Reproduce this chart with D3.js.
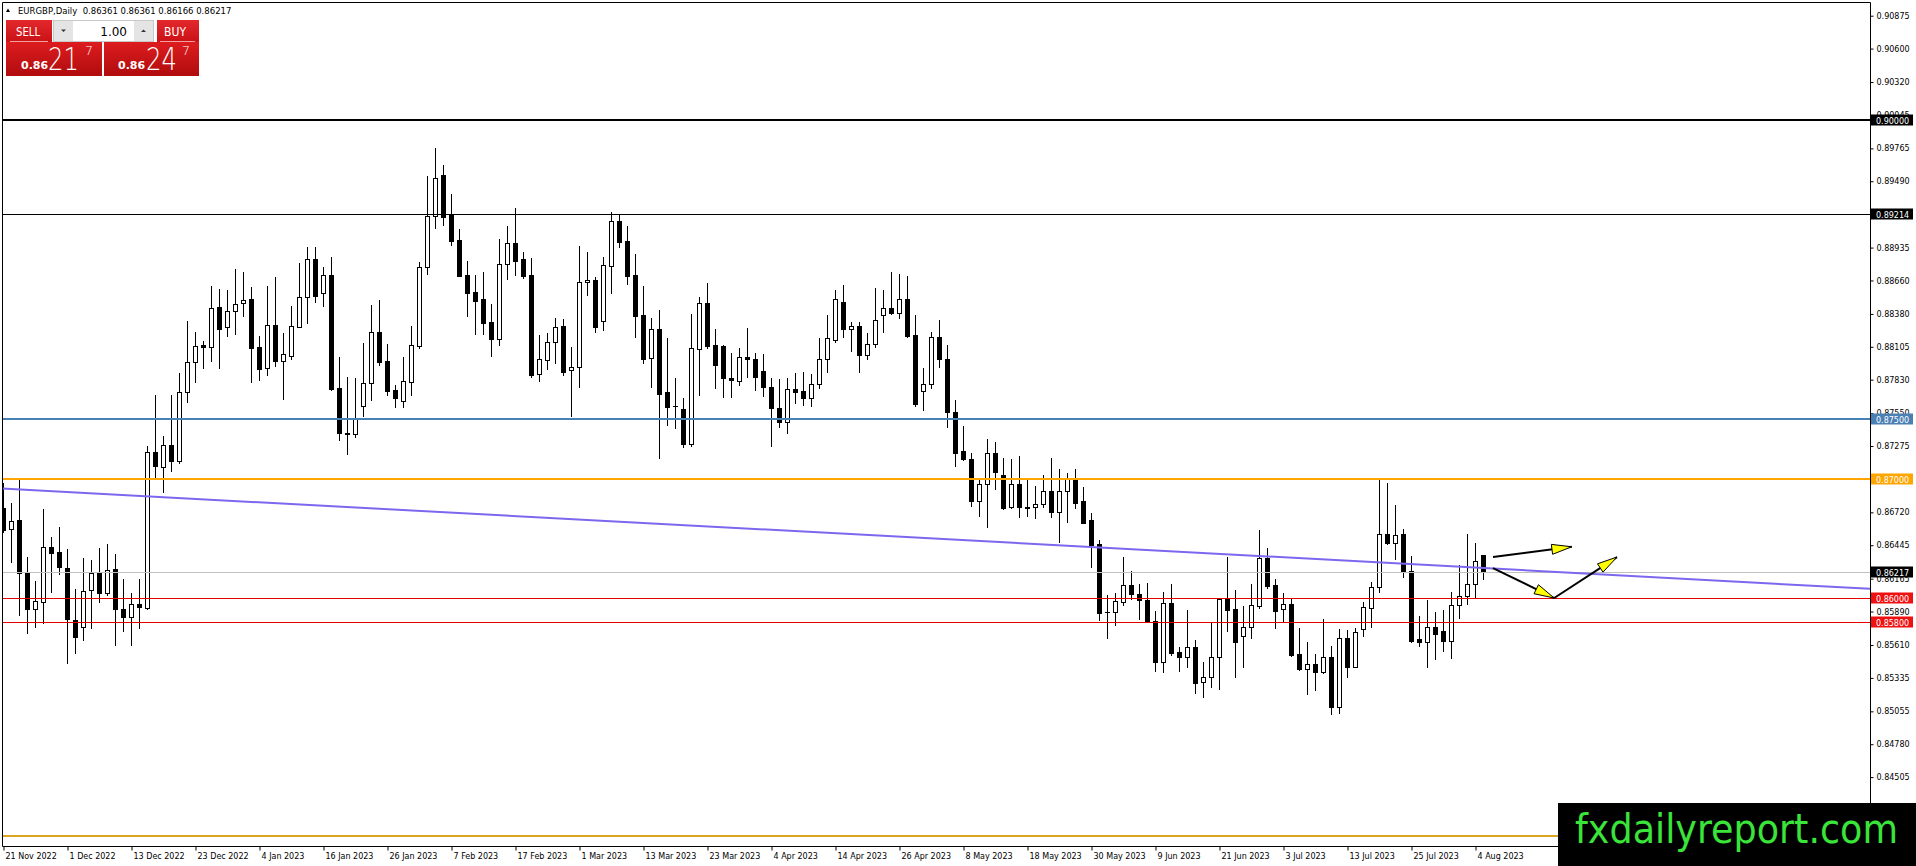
<!DOCTYPE html>
<html>
<head>
<meta charset="utf-8">
<title>EURGBP,Daily</title>
<style type="text/css">
* { margin: 0; padding: 0; }
body { background: #ffffff; overflow: hidden; }
svg { display: block; }
text { font-family: "DejaVu Sans", sans-serif; }
.hdr { white-space: pre; }
</style>
<script type="text/javascript" src="https://cdn.jsdelivr.net/npm/d3@7/dist/d3.min.js"></script>
</head>
<body>
<svg id="chart" width="1916" height="866"></svg>
<script type="text/javascript">
// EURGBP daily bars, 21 Nov 2022 .. 7 Aug 2023 (one bar per weekday)
var opens = [
  0.86753, 0.86577, 0.86655, 0.86215, 0.85908, 0.85966, 0.86432, 0.86385, 0.86251, 0.85819,
  0.85757, 0.86070, 0.86215, 0.86042, 0.86245, 0.85911, 0.85846, 0.85950, 0.85922, 0.87224,
  0.87101, 0.87280, 0.87152, 0.87723, 0.87974, 0.88117, 0.88100, 0.88435, 0.88267, 0.88404,
  0.88468, 0.88502, 0.88100, 0.87924, 0.88284, 0.87986, 0.88030, 0.88273, 0.88524, 0.88836,
  0.88552, 0.88705, 0.87757, 0.87383, 0.87372, 0.87609, 0.87799, 0.88226, 0.87986, 0.87744,
  0.87654, 0.87813, 0.88112, 0.88770, 0.89202, 0.89542, 0.89205, 0.88999, 0.88706, 0.88561,
  0.88505, 0.88310, 0.88170, 0.88795, 0.88971, 0.88840, 0.88706, 0.87877, 0.87995, 0.88142,
  0.88279, 0.87911, 0.87933, 0.88644, 0.88661, 0.88324, 0.88778, 0.89158, 0.88990, 0.88706,
  0.88371, 0.88009, 0.88254, 0.87727, 0.87610, 0.87585, 0.87292, 0.88089, 0.88469, 0.88120,
  0.88112, 0.87841, 0.87822, 0.88022, 0.88003, 0.87902, 0.87766, 0.87590, 0.87473, 0.87752,
  0.87735, 0.87674, 0.87791, 0.88000, 0.88162, 0.88477, 0.88251, 0.88279, 0.88033, 0.88125,
  0.88368, 0.88427, 0.88385, 0.88505, 0.88203, 0.87738, 0.87791, 0.88184, 0.88003, 0.87556,
  0.87230, 0.87163, 0.86815, 0.86957, 0.87213, 0.87032, 0.86762, 0.86954, 0.86762, 0.86762,
  0.86787, 0.86898, 0.86725, 0.86901, 0.86996, 0.86815, 0.86656, 0.86452, 0.85883, 0.85882,
  0.85966, 0.86111, 0.86033, 0.85986, 0.85813, 0.85464, 0.85958, 0.85548, 0.85511, 0.85590,
  0.85297, 0.85339, 0.85506, 0.85998, 0.85910, 0.85687, 0.85757, 0.85938, 0.86334, 0.86111,
  0.85908, 0.85952, 0.85534, 0.85406, 0.85450, 0.85380, 0.85506, 0.85088, 0.85665, 0.85428,
  0.85740, 0.85916, 0.86097, 0.86538, 0.86460, 0.86538, 0.86228, 0.85659, 0.85631, 0.85757,
  0.85726, 0.85645, 0.85944, 0.86019, 0.86117, 0.86361
];
var highs = [
  0.86962, 0.86795, 0.86996, 0.86348, 0.86148, 0.86747, 0.86516, 0.86599, 0.86415, 0.86075,
  0.86340, 0.86321, 0.86418, 0.86454, 0.86371, 0.86159, 0.86047, 0.86162, 0.87274, 0.87701,
  0.87358, 0.87701, 0.87882, 0.88320, 0.88225, 0.88153, 0.88613, 0.88585, 0.88577, 0.88753,
  0.88727, 0.88602, 0.88192, 0.88613, 0.88686, 0.88217, 0.88446, 0.88803, 0.88942, 0.88942,
  0.88775, 0.88859, 0.88019, 0.87855, 0.87841, 0.88133, 0.88455, 0.88497, 0.88128, 0.87785,
  0.88022, 0.88279, 0.88817, 0.89534, 0.89771, 0.89626, 0.89384, 0.89091, 0.88823, 0.88706,
  0.88728, 0.88463, 0.89010, 0.89119, 0.89269, 0.88898, 0.88851, 0.88204, 0.88218, 0.88343,
  0.88335, 0.88101, 0.88948, 0.88898, 0.88692, 0.88859, 0.89236, 0.89208, 0.89116, 0.88882,
  0.88614, 0.88349, 0.88413, 0.88176, 0.87841, 0.87679, 0.88379, 0.88524, 0.88636, 0.88251,
  0.88118, 0.88050, 0.88092, 0.88259, 0.88050, 0.88045, 0.87841, 0.87835, 0.87841, 0.87883,
  0.87897, 0.87874, 0.88176, 0.88371, 0.88580, 0.88622, 0.88315, 0.88315, 0.88223, 0.88597,
  0.88580, 0.88733, 0.88714, 0.88697, 0.88371, 0.87930, 0.88231, 0.88329, 0.88120, 0.87660,
  0.87442, 0.87213, 0.86990, 0.87333, 0.87305, 0.87172, 0.87166, 0.87191, 0.86990, 0.86940,
  0.87032, 0.87172, 0.87080, 0.87046, 0.87082, 0.86929, 0.86711, 0.86488, 0.86028, 0.86041,
  0.86348, 0.86228, 0.86120, 0.86131, 0.85896, 0.86055, 0.86120, 0.85595, 0.85902, 0.85651,
  0.85470, 0.85799, 0.86005, 0.86348, 0.86069, 0.85938, 0.86120, 0.86571, 0.86423, 0.86161,
  0.86041, 0.86000, 0.85754, 0.85637, 0.85531, 0.85824, 0.85601, 0.85743, 0.85735, 0.85749,
  0.85972, 0.86139, 0.86990, 0.86967, 0.86780, 0.86580, 0.86354, 0.85855, 0.85986, 0.85882,
  0.85902, 0.86050, 0.86278, 0.86538, 0.86460, 0.86361
];
var lows = [
  0.86558, 0.86307, 0.85860, 0.85713, 0.85763, 0.85791, 0.86056, 0.86201, 0.85462, 0.85545,
  0.85651, 0.85749, 0.85972, 0.86028, 0.85609, 0.85729, 0.85609, 0.85749, 0.85911, 0.87018,
  0.86892, 0.87068, 0.87135, 0.87645, 0.87813, 0.87930, 0.87988, 0.87924, 0.88198, 0.88209,
  0.88365, 0.87807, 0.87827, 0.87868, 0.87944, 0.87670, 0.88000, 0.88267, 0.88301, 0.88482,
  0.88449, 0.87743, 0.87325, 0.87205, 0.87352, 0.87528, 0.87660, 0.87953, 0.87702, 0.87604,
  0.87604, 0.87702, 0.88098, 0.88714, 0.89102, 0.89124, 0.88957, 0.88695, 0.88363, 0.88212,
  0.88212, 0.88031, 0.88120, 0.88672, 0.88706, 0.88683, 0.87855, 0.87822, 0.87917, 0.87967,
  0.87869, 0.87529, 0.87771, 0.88538, 0.88232, 0.88246, 0.88552, 0.88937, 0.88630, 0.88190,
  0.87967, 0.87766, 0.87172, 0.87451, 0.87428, 0.87264, 0.87275, 0.87702, 0.88092, 0.87758,
  0.87688, 0.87688, 0.87785, 0.87855, 0.87743, 0.87693, 0.87278, 0.87436, 0.87381, 0.87632,
  0.87618, 0.87612, 0.87763, 0.87897, 0.88148, 0.88190, 0.88072, 0.87897, 0.88003, 0.88100,
  0.88231, 0.88376, 0.88348, 0.88190, 0.87612, 0.87576, 0.87763, 0.87939, 0.87436, 0.87110,
  0.87158, 0.86773, 0.86692, 0.86594, 0.86918, 0.86748, 0.86755, 0.86683, 0.86689, 0.86670,
  0.86767, 0.86678, 0.86474, 0.86642, 0.86753, 0.86628, 0.86265, 0.85819, 0.85665, 0.85776,
  0.85944, 0.85991, 0.85824, 0.85804, 0.85394, 0.85380, 0.85525, 0.85394, 0.85428, 0.85205,
  0.85171, 0.85260, 0.85238, 0.85729, 0.85344, 0.85422, 0.85665, 0.85921, 0.86089, 0.85749,
  0.85804, 0.85517, 0.85400, 0.85196, 0.85233, 0.85375, 0.85029, 0.85043, 0.85339, 0.85422,
  0.85684, 0.85757, 0.86055, 0.86451, 0.86326, 0.86181, 0.85637, 0.85604, 0.85428, 0.85489,
  0.85559, 0.85498, 0.85832, 0.85949, 0.86005, 0.86166
];
var closes = [
  0.86572, 0.86650, 0.86209, 0.85908, 0.85978, 0.86432, 0.86382, 0.86259, 0.85824, 0.85679,
  0.86061, 0.86215, 0.86042, 0.86237, 0.85908, 0.85846, 0.85950, 0.85925, 0.87221, 0.87110,
  0.87280, 0.87152, 0.87723, 0.87974, 0.88108, 0.88100, 0.88426, 0.88256, 0.88404, 0.88460,
  0.88499, 0.88097, 0.87916, 0.88284, 0.87983, 0.88041, 0.88276, 0.88518, 0.88839, 0.88529,
  0.88705, 0.87751, 0.87380, 0.87372, 0.87498, 0.87799, 0.88226, 0.87981, 0.87738, 0.87674,
  0.87819, 0.88120, 0.88770, 0.89202, 0.89515, 0.89194, 0.88993, 0.88700, 0.88558, 0.88491,
  0.88301, 0.88170, 0.88795, 0.88971, 0.88826, 0.88700, 0.87869, 0.88000, 0.88142, 0.88268,
  0.87897, 0.87933, 0.88644, 0.88661, 0.88268, 0.88789, 0.89158, 0.88979, 0.88700, 0.88366,
  0.88003, 0.88251, 0.87710, 0.87604, 0.87612, 0.87292, 0.88092, 0.88469, 0.88112, 0.87953,
  0.87841, 0.87827, 0.88017, 0.88000, 0.87855, 0.87766, 0.87595, 0.87478, 0.87749, 0.87729,
  0.87674, 0.87791, 0.88000, 0.88176, 0.88502, 0.88251, 0.88276, 0.88033, 0.88125, 0.88326,
  0.88427, 0.88385, 0.88502, 0.88198, 0.87626, 0.87791, 0.88184, 0.88000, 0.87556, 0.87213,
  0.87163, 0.86815, 0.86954, 0.87213, 0.87060, 0.86759, 0.86954, 0.86762, 0.86756, 0.86787,
  0.86898, 0.86725, 0.86901, 0.86996, 0.86801, 0.86633, 0.86446, 0.85880, 0.85883, 0.85977,
  0.86111, 0.86033, 0.85986, 0.85813, 0.85464, 0.85958, 0.85545, 0.85511, 0.85590, 0.85294,
  0.85339, 0.85506, 0.85998, 0.85902, 0.85637, 0.85757, 0.85944, 0.86334, 0.86103, 0.85896,
  0.85949, 0.85525, 0.85406, 0.85450, 0.85380, 0.85506, 0.85093, 0.85665, 0.85428, 0.85721,
  0.85924, 0.86097, 0.86538, 0.86460, 0.86529, 0.86223, 0.85643, 0.85631, 0.85757, 0.85698,
  0.85645, 0.85944, 0.86022, 0.86117, 0.86312, 0.86217
];

// time scale labels, one every 8 bars
var dateLabels = [
  "21 Nov 2022", "1 Dec 2022", "13 Dec 2022", "23 Dec 2022", "4 Jan 2023", "16 Jan 2023",
  "26 Jan 2023", "7 Feb 2023", "17 Feb 2023", "1 Mar 2023", "13 Mar 2023", "23 Mar 2023",
  "4 Apr 2023", "14 Apr 2023", "26 Apr 2023", "8 May 2023", "18 May 2023", "30 May 2023",
  "9 Jun 2023", "21 Jun 2023", "3 Jul 2023", "13 Jul 2023", "25 Jul 2023", "4 Aug 2023"
];

// price scale labels
var priceTicks = [
  0.90875, 0.90600, 0.90320, 0.90045, 0.89765, 0.89490, 0.89210, 0.88935, 0.88660,
  0.88380, 0.88105, 0.87830, 0.87550, 0.87275, 0.86995, 0.86720, 0.86445, 0.86165,
  0.85890, 0.85610, 0.85335, 0.85055, 0.84780, 0.84505, 0.84230
];

// horizontal levels drawn on the chart
var levelPrices = [0.90000, 0.89214, 0.87500, 0.87000, 0.86000, 0.85800, 0.84010];

// sloping trend line, [bar index, price]
var trendPoints = [[0, 0.86919], [185, 0.86254]];

// scenario arrows, [bar index, price] start -> end
var arrowPoints = [
  [[186.25, 0.86346], [196.1, 0.86432]],
  [[186.25, 0.86254], [193.9, 0.86003]],
  [[193.9, 0.86003], [201.75, 0.86346]]
];

var symbolName = "EURGBP,Daily";
var sellPrice = ["0.86", "21", "7"];
var buyPrice = ["0.86", "24", "7"];
var lotSize = "1.00";
var siteName = "fxdailyreport.com";

/* ---------------------------------------------------------------- */

var W = 1916, H = 866;
var pL = 2, pT = 2, pR = 1870, pB = 846;   // plot frame
var nBars = opens.length;
var fmt = d3.format(".5f");

// level styles (same order as levelPrices)
var levelColors = ["#000000", "#000000", "#4682b4", "#ffa500", "#e60000", "#e60000", "#daa520"];
var levelWidths = [2, 1, 2, 2, 1, 1, 2];
var boxColors = ["#000000", "#000000", "#4a80b4", "#ffa500", "#ee1111", "#ee1111", "#daa520"];

var svg = d3.select("#chart");

var x = d3.scaleLinear().domain([0, nBars - 1]).range([3, 3 + 8 * (nBars - 1)]);
var y = d3.scaleLinear().domain([0.858, 0.90]).range([622.3, 120.3]);

var defs = svg.append("defs");
defs.append("clipPath").attr("id", "plotClip")
  .append("rect").attr("x", pL).attr("y", pT).attr("width", pR - pL).attr("height", pB - pT);
var g1 = defs.append("linearGradient").attr("id", "redHead").attr("x1", 0).attr("y1", 0).attr("x2", 0).attr("y2", 1);
g1.append("stop").attr("offset", "0%").attr("stop-color", "#e3282c");
g1.append("stop").attr("offset", "100%").attr("stop-color", "#c91216");
var g2 = defs.append("linearGradient").attr("id", "redBody").attr("x1", 0).attr("y1", 0).attr("x2", 0).attr("y2", 1);
g2.append("stop").attr("offset", "0%").attr("stop-color", "#dd1c1f");
g2.append("stop").attr("offset", "100%").attr("stop-color", "#b00c0e");

var plot = svg.append("g").attr("clip-path", "url(#plotClip)");

// candles
var bars = d3.range(nBars).map(function(i) {
  return { i: i, o: opens[i], h: highs[i], l: lows[i], c: closes[i] };
});

var candle = plot.selectAll("g.bar").data(bars).enter().append("g").attr("class", "bar");

candle.append("line")
  .attr("x1", function(d) { return Math.round(x(d.i)) + 0.5; })
  .attr("x2", function(d) { return Math.round(x(d.i)) + 0.5; })
  .attr("y1", function(d) { return Math.round(y(d.h)); })
  .attr("y2", function(d) { return Math.round(y(d.l)) + 1; })
  .attr("stroke", "#000").attr("stroke-width", 1);

candle.each(function(d) {
  var g = d3.select(this);
  var xi = Math.round(x(d.i));
  var yt = Math.round(y(Math.max(d.o, d.c)));
  var yb = Math.round(y(Math.min(d.o, d.c)));
  if (yb - yt < 1) {
    g.append("line").attr("x1", xi - 2).attr("x2", xi + 3)
      .attr("y1", yt + 0.5).attr("y2", yt + 0.5)
      .attr("stroke", "#000").attr("stroke-width", 1);
  } else if (d.c > d.o) {
    g.append("rect").attr("x", xi - 1.5).attr("y", yt + 0.5)
      .attr("width", 4).attr("height", yb - yt)
      .attr("fill", "#fff").attr("stroke", "#000").attr("stroke-width", 1);
  } else {
    g.append("rect").attr("x", xi - 2).attr("y", yt)
      .attr("width", 5).attr("height", yb - yt + 1)
      .attr("fill", "#000");
  }
});

// bid line
var bid = closes[nBars - 1];
plot.append("line")
  .attr("x1", pL).attr("x2", pR)
  .attr("y1", Math.round(y(bid)) + 0.5).attr("y2", Math.round(y(bid)) + 0.5)
  .attr("stroke", "#c0c0c0").attr("stroke-width", 1);

// horizontal levels
plot.selectAll("line.level").data(levelPrices).enter().append("line")
  .attr("class", "level")
  .attr("x1", pL).attr("x2", pR)
  .attr("y1", function(d, i) { return Math.round(y(d)) + (levelWidths[i] % 2 ? 0.5 : 0); })
  .attr("y2", function(d, i) { return Math.round(y(d)) + (levelWidths[i] % 2 ? 0.5 : 0); })
  .attr("stroke", function(d, i) { return levelColors[i]; })
  .attr("stroke-width", function(d, i) { return levelWidths[i]; });

// trend line extended to both edges
var slope = (trendPoints[1][1] - trendPoints[0][1]) / (trendPoints[1][0] - trendPoints[0][0]);
var trendAt = function(idx) { return trendPoints[0][1] + (idx - trendPoints[0][0]) * slope; };
var iL = x.invert(pL), iR = x.invert(pR);
plot.append("line")
  .attr("x1", pL).attr("y1", y(trendAt(iL)))
  .attr("x2", pR).attr("y2", y(trendAt(iR)))
  .attr("stroke", "#7b68ee").attr("stroke-width", 2);

// arrows
arrowPoints.forEach(function(a) {
  var x0 = x(a[0][0]), y0 = y(a[0][1]), x1 = x(a[1][0]), y1 = y(a[1][1]);
  var ang = Math.atan2(y1 - y0, x1 - x0);
  var len = 20, hw = 5;
  var bx = x1 - len * Math.cos(ang), by = y1 - len * Math.sin(ang);
  var px = -Math.sin(ang) * hw, py = Math.cos(ang) * hw;
  plot.append("line").attr("x1", x0).attr("y1", y0).attr("x2", x1).attr("y2", y1)
    .attr("stroke", "#000").attr("stroke-width", 2);
  plot.append("path")
    .attr("d", "M" + x1 + "," + y1 + "L" + (bx + px) + "," + (by + py) + "L" + (bx - px) + "," + (by - py) + "Z")
    .attr("fill", "#ffff00").attr("stroke", "#000").attr("stroke-width", 1);
});

// frame
svg.append("path")
  .attr("d", "M" + (pL + 0.5) + "," + (pB + 0.5) + "V" + (pT + 0.5) + "H" + (pR + 0.5) + "V" + (pB + 0.5) + "H" + (pL + 0.5))
  .attr("fill", "none").attr("stroke", "#000").attr("stroke-width", 1);

// price axis
var yAxis = d3.axisRight(y).tickValues(priceTicks).tickSize(3).tickPadding(3).tickFormat(fmt);
var ya = svg.append("g").attr("transform", "translate(" + (pR + 0.5) + ",0)").call(yAxis);
ya.select(".domain").remove();
ya.attr("font-family", "DejaVu Sans").attr("font-size", 8);
ya.selectAll("text").attr("fill", "#000");

// time axis
var xAxis = d3.axisBottom(x)
  .tickValues(d3.range(0, nBars, 8))
  .tickSize(4).tickPadding(3)
  .tickFormat(function(d, i) { return dateLabels[i]; });
var xa = svg.append("g").attr("transform", "translate(0," + (pB + 0.5) + ")").call(xAxis);
xa.select(".domain").remove();
xa.attr("font-family", "DejaVu Sans").attr("font-size", 8);
xa.selectAll(".tick line").attr("transform", "translate(0.5,0)");
xa.selectAll("text").attr("text-anchor", "start").attr("x", 2).attr("fill", "#000");

// level labels on the price scale
var boxes = levelPrices.map(function(p, i) { return { p: p, col: boxColors[i] }; });
boxes.push({ p: bid, col: "#000000" });
var lab = svg.selectAll("g.lvl").data(boxes).enter().append("g").attr("class", "lvl")
  .attr("transform", function(d) { return "translate(" + (pR + 1) + "," + Math.round(y(d.p)) + ")"; });
lab.append("rect").attr("x", 0).attr("y", -5.5).attr("width", 42).attr("height", 11)
  .attr("fill", function(d) { return d.col; });
lab.append("text").attr("x", 5).attr("y", 3.5).attr("font-size", 8).attr("fill", "#fff")
  .text(function(d) { return fmt(d.p); });

// header line
var b = bars[nBars - 1];
svg.append("path").attr("d", "M6,12L10,12L8,8.5Z").attr("fill", "#000");
svg.append("text").attr("class", "hdr").attr("x", 18).attr("y", 13.5).attr("font-size", 8.5).attr("fill", "#000")
  .text(symbolName + "  " + fmt(b.o) + " " + fmt(b.h) + " " + fmt(b.l) + " " + fmt(b.c));

// one-click trading panel
var panel = svg.append("g");
panel.append("rect").attr("x", 6).attr("y", 20).attr("width", 46).attr("height", 22).attr("fill", "url(#redHead)");
panel.append("rect").attr("x", 157).attr("y", 20).attr("width", 42).attr("height", 22).attr("fill", "url(#redHead)");
panel.append("rect").attr("x", 6).attr("y", 42).attr("width", 96).attr("height", 34).attr("fill", "url(#redBody)");
panel.append("rect").attr("x", 104).attr("y", 42).attr("width", 95).attr("height", 34).attr("fill", "url(#redBody)");
panel.append("line").attr("x1", 10).attr("x2", 48).attr("y1", 41.5).attr("y2", 41.5).attr("stroke", "#f2a0a0");
panel.append("line").attr("x1", 160).attr("x2", 195).attr("y1", 41.5).attr("y2", 41.5).attr("stroke", "#f2a0a0");
panel.append("text").attr("x", 16).attr("y", 36).attr("font-family", "Liberation Sans").attr("font-size", 13)
  .attr("textLength", 24).attr("lengthAdjust", "spacingAndGlyphs").attr("fill", "#fff").text("SELL");
panel.append("text").attr("x", 164).attr("y", 36).attr("font-family", "Liberation Sans").attr("font-size", 13)
  .attr("textLength", 22).attr("lengthAdjust", "spacingAndGlyphs").attr("fill", "#fff").text("BUY");

panel.append("rect").attr("x", 53.5).attr("y", 20.5).attr("width", 100).attr("height", 21)
  .attr("fill", "#fff").attr("stroke", "#c8c8c8");
panel.append("rect").attr("x", 54).attr("y", 21).attr("width", 19).attr("height", 20).attr("fill", "#e4e4e4");
panel.append("rect").attr("x", 134).attr("y", 21).attr("width", 19).attr("height", 20).attr("fill", "#e4e4e4");
panel.append("path").attr("d", "M61,29.5L66,29.5L63.5,32Z").attr("fill", "#333");
panel.append("path").attr("d", "M141,32L146,32L143.5,29.5Z").attr("fill", "#333");
panel.append("text").attr("x", 127).attr("y", 36).attr("text-anchor", "end")
  .attr("font-family", "Liberation Sans").attr("font-size", 12).attr("fill", "#000").text(lotSize);

[[sellPrice, 21, 48, 85], [buyPrice, 118, 146, 182]].forEach(function(p) {
  panel.append("text").attr("x", p[1]).attr("y", 69).attr("font-family", "Liberation Sans")
    .attr("font-weight", "bold").attr("font-size", 11).attr("fill", "#fff").text(p[0][0]);
  panel.append("text").attr("x", p[2]).attr("y", 70).attr("font-family", "Roboto").attr("font-weight", 300)
    .attr("font-size", 32).attr("textLength", 31).attr("lengthAdjust", "spacingAndGlyphs")
    .attr("fill", "#fff").text(p[0][1]);
  panel.append("text").attr("x", p[3]).attr("y", 55).attr("font-family", "Roboto").attr("font-weight", 300)
    .attr("font-size", 12.5).attr("fill", "#fff").text(p[0][2]);
});

// watermark
svg.append("rect").attr("x", 1558).attr("y", 803).attr("width", W - 1558).attr("height", H - 803).attr("fill", "#000");
svg.append("text").attr("x", 1575).attr("y", 843).attr("font-family", "Liberation Sans, Arial, sans-serif")
  .attr("font-size", 41).attr("textLength", 323).attr("lengthAdjust", "spacingAndGlyphs")
  .attr("fill", "#3ae43a").text(siteName);
</script>
</body>
</html>
